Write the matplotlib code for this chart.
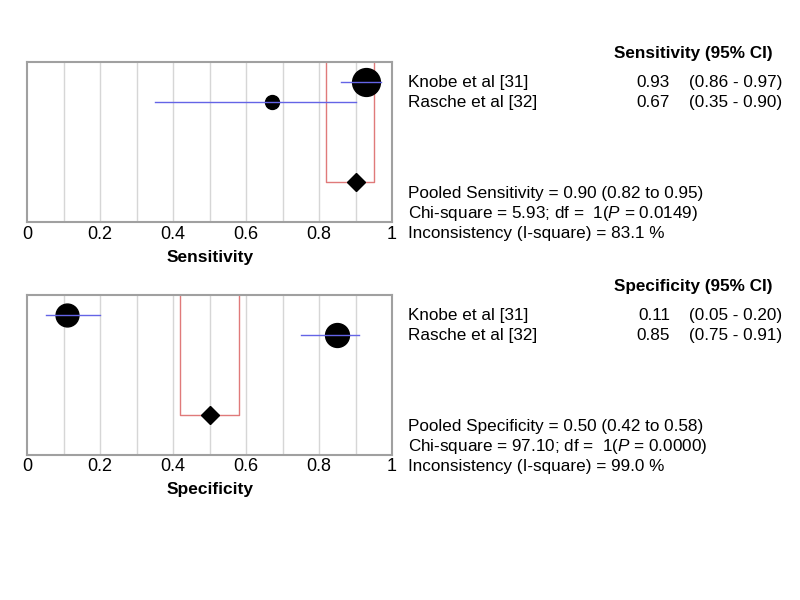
import numpy as np
import matplotlib
matplotlib.use("Agg")
import matplotlib.pyplot as plt

plt.rcParams['font.family'] = ['Liberation Sans', 'DejaVu Sans']
plt.rcParams['mathtext.fontset'] = 'custom'
plt.rcParams['mathtext.it'] = 'Liberation Sans:italic'
plt.rcParams['mathtext.rm'] = 'Liberation Sans'

# study data
studies = ["Knobe et al [31]", "Rasche et al [32]"]

sens = [0.93, 0.67]
sens_lo = [0.86, 0.35]
sens_hi = [0.97, 0.90]
sens_weight = [80, 20]
sens_pooled = [0.90, 0.82, 0.95]
sens_chi = "5.93"
sens_p = "0.0149"
sens_i2 = "83.1"

spec = [0.11, 0.85]
spec_lo = [0.05, 0.75]
spec_hi = [0.20, 0.91]
spec_weight = [54, 59]
spec_pooled = [0.50, 0.42, 0.58]
spec_chi = "97.10"
spec_p = "0.0000"
spec_i2 = "99.0"

ticks = [0, 0.2, 0.4, 0.6, 0.8, 1]
tick_labels = ["0", "0.2", "0.4", "0.6", "0.8", "1"]

fig = plt.figure(figsize=(8, 6), dpi=100)
W, H = 800, 600
fs = 12.3


def forest(ax, est, lo, hi, weight, pooled, xlabel):
    rows = np.arange(1, len(est) + 1)
    for g in np.arange(0.1, 1.0, 0.1):
        ax.axvline(g, color="#d6d6d6", lw=1, zorder=0)
    for r, e, l, h, w in zip(rows, est, lo, hi, weight):
        ax.plot(e, r, "o", color="black", ms=2.24 * np.sqrt(w), zorder=2)
        ax.plot([l, h], [r, r], color="#6464e6", lw=1, zorder=3)
    p, pl, ph = pooled
    pr = 6
    ax.plot([pl, pl, ph, ph], [-1, pr, pr, -1], color="#e07a7a", lw=1, zorder=1)
    ax.plot(p, pr, "D", color="black", ms=9, zorder=4)
    ax.set_xlim(0, 1)
    ax.set_ylim(8, 0)
    ax.set_yticks([])
    ax.set_xticks(ticks)
    ax.set_xticklabels(tick_labels, fontsize=13)
    ax.tick_params(axis="x", length=0, pad=2.5)
    for s in ax.spines.values():
        s.set_color("#a0a0a0")
        s.set_linewidth(1.5)
    ax.set_xlabel(xlabel, fontsize=12.5, fontweight="bold", labelpad=5)


def txt(x, y, s, **kw):
    fig.text(x / W, 1 - y / H, s, fontsize=fs, va="baseline", **kw)


def panel(y0, name, est, lo, hi, pooled, chi, p, i2):
    txt(773, y0, name + " (95% CI)", fontweight="bold", ha="right")
    for k, (st, e, l, h) in enumerate(zip(studies, est, lo, hi)):
        y = y0 + 29 + 20 * k
        txt(408, y, st)
        txt(670, y, "%.2f" % e, ha="right")
        txt(689, y, "(%.2f - %.2f)" % (l, h))
    txt(408, y0 + 139.5, "Pooled %s = %.2f (%.2f to %.2f)" % (name, pooled[0], pooled[1], pooled[2]))
    txt(408, y0 + 159.5, "Chi-square = %s; df =  1($\\it{P}$ = %s)" % (chi, p))
    txt(408, y0 + 179.5, "Inconsistency (I-square) = %s %%" % i2)


ax1 = fig.add_axes([27.3 / W, 1 - 222.3 / H, 364.7 / W, 160 / H])
forest(ax1, sens, sens_lo, sens_hi, sens_weight, sens_pooled, "Sensitivity")
ax2 = fig.add_axes([27.3 / W, 1 - 454.7 / H, 364.7 / W, 160 / H])
forest(ax2, spec, spec_lo, spec_hi, spec_weight, spec_pooled, "Specificity")

panel(58.3, "Sensitivity", sens, sens_lo, sens_hi, sens_pooled, sens_chi, sens_p, sens_i2)
panel(291, "Specificity", spec, spec_lo, spec_hi, spec_pooled, spec_chi, spec_p, spec_i2)

fig.savefig("out.png", dpi=100)
